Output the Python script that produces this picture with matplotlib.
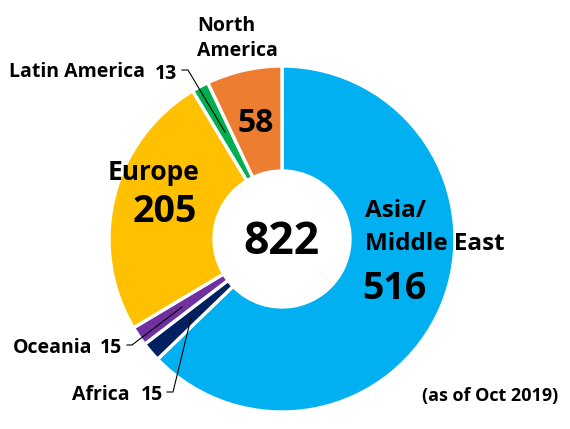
"""Donut chart of sites by region, as of Oct 2019."""
import matplotlib
matplotlib.use("Agg")
import matplotlib.pyplot as plt

regions = ["Asia/Middle East", "Africa", "Oceania", "Europe", "Latin America", "North America"]
values = [516, 15, 15, 205, 13, 58]
colors = ["#00B0F0", "#002060", "#7030A0", "#FFC000", "#00B050", "#ED7D31"]

plt.rcParams["font.family"] = ["Open Sans", "DejaVu Sans"]

fig = plt.figure(figsize=(5.70, 4.29), dpi=100)
ax = fig.add_axes([0, 0, 1, 1])

# y axis runs downward here, so the pie starts at -90 to sit at 12 o'clock
ax.pie(values, colors=colors, startangle=-90, counterclock=True,
       center=(282, 239), radius=173, frame=True,
       wedgeprops=dict(width=105, edgecolor="white", linewidth=2.4))
ax.set_xlim(0, 570)
ax.set_ylim(429, 0)
ax.set_aspect("equal")
ax.axis("off")

ax.text(281, 242, "822", fontsize=32, fontweight="bold", ha="center", va="center")
ax.text(365, 211, "Asia/", fontsize=17.5, fontweight="bold", ha="left", va="center")
ax.text(365, 244, "Middle East", fontsize=17.5, fontweight="bold", ha="left", va="center")
ax.text(394, 289, "516", fontsize=27, fontweight="bold", ha="center", va="center")
ax.text(153, 172, "Europe", fontsize=19, fontweight="bold", ha="center", va="center")
ax.text(165, 212, "205", fontsize=27, fontweight="bold", ha="center", va="center")
ax.text(256, 123, "58", fontsize=23, fontweight="bold", ha="center", va="center")
ax.text(197, 26, "North", fontsize=14, fontweight="bold", ha="left", va="center")
ax.text(197, 51, "America", fontsize=14, fontweight="bold", ha="left", va="center")
ax.text(9, 72, "Latin America", fontsize=14, fontweight="bold", ha="left", va="center")
ax.text(155, 74, "13", fontsize=14, fontweight="bold", ha="left", va="center")
ax.text(13, 348, "Oceania", fontsize=14, fontweight="bold", ha="left", va="center")
ax.text(100, 348, "15", fontsize=14, fontweight="bold", ha="left", va="center")
ax.text(72, 395, "Africa", fontsize=14, fontweight="bold", ha="left", va="center")
ax.text(141, 395, "15", fontsize=14, fontweight="bold", ha="left", va="center")
ax.text(422, 396, "(as of Oct 2019)", fontsize=13, fontweight="bold", ha="left", va="center")

# leader lines
ax.plot([182, 188, 225], [70, 70, 132], color="black", lw=0.8)
ax.plot([127, 132, 182], [345, 345, 307], color="black", lw=0.8)
ax.plot([167, 173, 191], [392, 392, 318], color="black", lw=0.8)

fig.savefig("out.png", dpi=100)
